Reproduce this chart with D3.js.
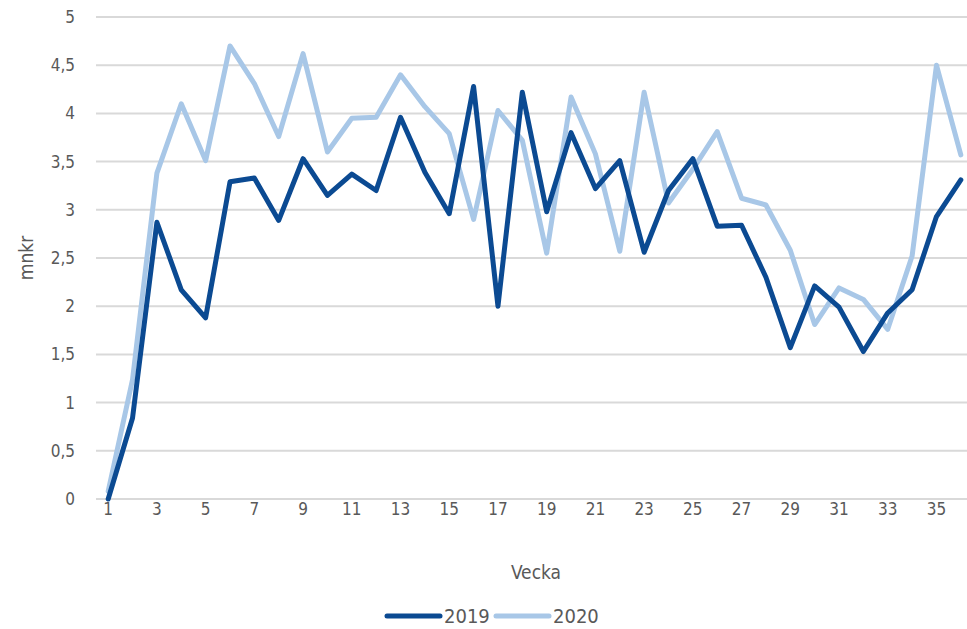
<!DOCTYPE html>
<html>
<head>
<meta charset="utf-8">
<script src="https://cdn.jsdelivr.net/npm/d3@7"></script>
<style>
  body { margin: 0; background: #fff; }
  svg text { font-family: "Liberation Sans Narrow", "DejaVu Sans Condensed", "Open Sans", sans-serif; fill: #595959; }
</style>
</head>
<body>
<svg id="chart" width="967" height="629"></svg>
<script>
// weeks 1..36
const weeks = d3.range(1, 37);
const values2019 = [0, 0.84, 2.87, 2.17, 1.88, 3.29, 3.33, 2.89, 3.53, 3.15, 3.37, 3.2,
    3.96, 3.39, 2.96, 4.28, 2.0, 4.22, 2.98, 3.8, 3.22, 3.51, 2.56, 3.2,
    3.53, 2.83, 2.84, 2.3, 1.57, 2.21, 1.99, 1.53, 1.93, 2.17, 2.93, 3.31];
const values2020 = [0.08, 1.24, 3.38, 4.1, 3.51, 4.7, 4.31, 3.76, 4.62, 3.6, 3.95, 3.96,
    4.4, 4.07, 3.79, 2.9, 4.03, 3.72, 2.55, 4.17, 3.58, 2.57, 4.22, 3.07,
    3.42, 3.81, 3.12, 3.05, 2.58, 1.81, 2.19, 2.07, 1.76, 2.52, 4.5, 3.57];
const yTicks = [0, 0.5, 1, 1.5, 2, 2.5, 3, 3.5, 4, 4.5, 5];
const series = [
    { name: "2019", values: values2019, color: "#0B4A92" },
    { name: "2020", values: values2020, color: "#A8C7E7" }
];

const svg = d3.select("#chart");
const plot = { left: 96, right: 973, top: 17, bottom: 499 };

// categories sit between tick marks, like the spreadsheet did
const x = d3.scaleBand().domain(weeks).range([plot.left, plot.right]);
const y = d3.scaleLinear().domain([0, 5]).range([plot.bottom, plot.top]);
const fmt = d => String(d).replace(".", ",");

// horizontal grid
svg.append("g")
    .selectAll("line")
    .data(yTicks)
    .join("line")
    .attr("x1", plot.left)
    .attr("x2", plot.right)
    .attr("y1", d => y(d))
    .attr("y2", d => y(d))
    .attr("stroke", "#d9d9d9")
    .attr("stroke-width", 2);

// y tick labels
svg.append("g")
    .selectAll("text")
    .data(yTicks)
    .join("text")
    .attr("x", 75)
    .attr("y", d => y(d))
    .attr("dy", "0.35em")
    .attr("text-anchor", "end")
    .style("font-size", "17px")
    .text(fmt);

// x tick labels, every other week
svg.append("g")
    .selectAll("text")
    .data(weeks.filter(w => w % 2 === 1))
    .join("text")
    .attr("x", d => x(d) + x.bandwidth() / 2)
    .attr("y", 509)
    .attr("dy", "0.35em")
    .attr("text-anchor", "middle")
    .style("font-size", "17px")
    .text(d => d);

// axis titles
svg.append("text")
    .attr("transform", "translate(26,258) rotate(-90)")
    .attr("text-anchor", "middle")
    .attr("dy", "0.35em")
    .style("font-size", "19px")
    .text("mnkr");

svg.append("text")
    .attr("x", 536)
    .attr("y", 572)
    .attr("dy", "0.35em")
    .attr("text-anchor", "middle")
    .style("font-size", "19px")
    .text("Vecka");

// lines
const line = d3.line()
    .x((d, i) => x(weeks[i]) + x.bandwidth() / 2)
    .y(d => y(d));

svg.append("g")
    .selectAll("path")
    .data(series.slice().reverse())
    .join("path")
    .attr("d", d => line(d.values))
    .attr("fill", "none")
    .attr("stroke", d => d.color)
    .attr("stroke-width", 5)
    .attr("stroke-linejoin", "round")
    .attr("stroke-linecap", "round");

// legend
const legend = svg.append("g")
    .selectAll("g")
    .data(series)
    .join("g")
    .attr("transform", (d, i) => `translate(${387 + i * 109},616)`);

legend.append("line")
    .attr("x1", 0)
    .attr("x2", 53)
    .attr("stroke", d => d.color)
    .attr("stroke-width", 5)
    .attr("stroke-linecap", "round");

legend.append("text")
    .attr("x", 57)
    .attr("dy", "0.35em")
    .style("font-size", "20px")
    .text(d => d.name);
</script>
</body>
</html>
